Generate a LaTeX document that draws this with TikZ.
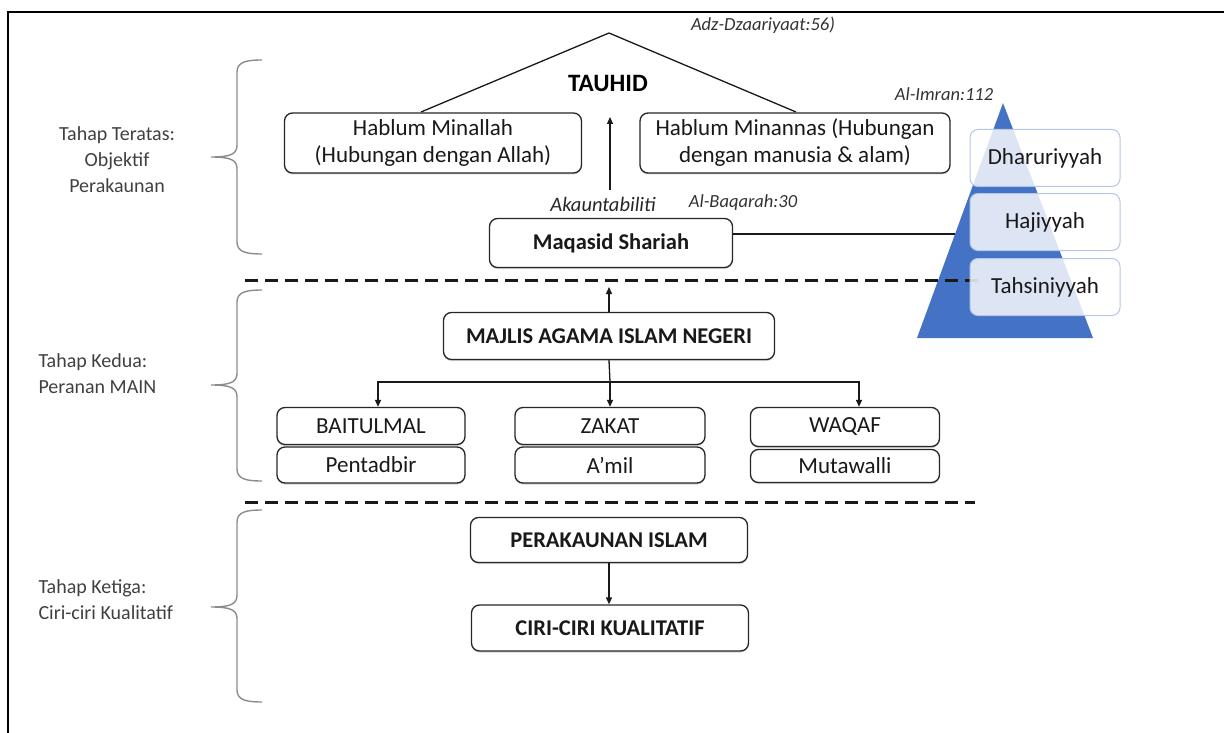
\documentclass[tikz,border=0pt]{standalone}
\usepackage{fontspec}
\setmainfont{Carlito}
\usetikzlibrary{arrows.meta,shadows}
\definecolor{pyrblue}{HTML}{4472C4}
\definecolor{pyredge}{HTML}{B4C7E7}
\definecolor{bracegray}{HTML}{8C8C8C}
\definecolor{labelgray}{HTML}{404040}

% curly brace opening to the right: top y, tip y, bottom y
\newcommand\stagebrace[3]{%
  \draw[stagebr] (262,#1) .. controls (246,#1) and (237,#1+2) .. (237,#1+12)
    -- (237,#2-12) .. controls (237,#2-3) and (231,#2) .. (211,#2)
    .. controls (231,#2) and (237,#2+3) .. (237,#2+12)
    -- (237,#3-12) .. controls (237,#3-2) and (246,#3) .. (262,#3);}

\begin{document}
\begin{tikzpicture}[x=1pt,y=-1pt,
  box/.style={draw=black!85, line width=1.3pt, rounded corners=8pt, fill=white,
    align=center, inner sep=0pt, text=black!90,
    drop shadow={shadow xshift=0pt, shadow yshift=-1.5pt, opacity=0.35},
    font=\fontsize{23}{27}\selectfont},
  boldbox/.style={box, font=\fontsize{22.5}{26}\selectfont\bfseries},
  pyrbox/.style={draw=pyredge, line width=1pt, rounded corners=8pt,
    fill=white, fill opacity=0.82, text opacity=1, inner sep=0pt,
    minimum width=150pt, font=\fontsize{23}{27}\selectfont, text=black!90},
  ref/.style={font=\fontsize{18.5}{22}\selectfont\itshape, text=black!80},
  stage/.style={font=\fontsize{20}{26}\selectfont, text=labelgray},
  stagebr/.style={draw=bracegray, line width=1.4pt},
  conn/.style={draw=black!90, line width=1.3pt},
  arr/.style={conn, -{Triangle[length=7pt,width=6pt]}},
  divider/.style={draw=black!90, line width=3pt, dash pattern=on 13pt off 7pt}
]
\useasboundingbox (0,0) rectangle (1224,733);

% frame edges
\draw[line width=2pt] (1224,12) -- (8,12) -- (8,733);

% roof of TAUHID
\coordinate (roofL) at (421,112);
\coordinate (roofT) at (609,33);
\coordinate (roofR) at (796,112);
\draw[conn] (roofL) -- (roofT) -- (roofR);
\node[font=\fontsize{25}{28}\selectfont\bfseries] (tauhid) at (608,83) {TAUHID};
\node[ref] (adz) at (763,25) {Adz-Dzaariyaat:56)};

% pyramid of maqasid levels
\coordinate (pyrT) at (1003,103);
\coordinate (pyrL) at (917,338);
\coordinate (pyrR) at (1093,338);
\fill[pyrblue] (pyrT) -- (pyrR) -- (pyrL) -- cycle;
\node[ref] (imran) at (944,94) {Al-Imran:112};

% top stage boxes
\node[box, minimum width=297pt, minimum height=60pt] (minallah) at (433,143)
  {Hablum Minallah\\(Hubungan dengan Allah)};
\node[box, minimum width=310pt, minimum height=60pt] (minannas) at (795,143)
  {Hablum Minannas (Hubungan\\dengan manusia \& alam)};
\node[boldbox, minimum width=243pt, minimum height=49pt] (maqasid) at (611,243)
  {Maqasid Shariah};
\node[font=\fontsize{20.5}{24}\selectfont\itshape, text=black!85] (akaun) at (603,204) {Akauntabiliti};
\node[ref] (baqarah) at (743,203) {Al-Baqarah:30};
\coordinate (akaunTop) at (610,190);
\coordinate (roofMid) at (610,117);
\draw[arr] (akaunTop) -- (roofMid);

% link to pyramid edge
\coordinate (pyrHit) at (955,234);
\draw[conn] (maqasid.east |- pyrHit) -- (pyrHit);

% dividers
\coordinate (div1L) at (245,280);
\coordinate (div1R) at (979,280);
\coordinate (div2L) at (245,502);
\coordinate (div2R) at (975,502);
\draw[divider] (div1L) -- (div1R);
\draw[divider] (div2L) -- (div2R);

% pyramid level boxes
\node[pyrbox, minimum height=57pt] (dhar) at (1045,158) {Dharuriyyah};
\node[pyrbox, minimum height=57pt] (haji) at (1045,222) {Hajiyyah};
\node[pyrbox, minimum height=57pt] (tahs) at (1045,287) {Tahsiniyyah};

% second stage
\node[boldbox, minimum width=331pt, minimum height=47pt] (majlis) at (609,336)
  {MAJLIS AGAMA ISLAM NEGERI};
\coordinate (majlisUp) at (609,287);
\draw[arr] (majlis.north) -- (majlisUp);

\node[box, minimum width=188pt, minimum height=37pt] (baitul) at (371,426) {BAITULMAL};
\node[box, minimum width=188pt, minimum height=36pt] (pentad) at (371,465) {Pentadbir};
\node[box, minimum width=190pt, minimum height=37pt] (zakat) at (610,426) {ZAKAT};
\node[box, minimum width=190pt, minimum height=36pt] (amil) at (610,465) {A’mil};
\node[box, minimum width=189pt, minimum height=39pt] (waqaf) at (845,427) {WAQAF};
\node[box, minimum width=189pt, minimum height=33pt] (mutaw) at (845,466) {Mutawalli};

\coordinate (bar) at (610,382);
\draw[conn] (majlis.south) -- (bar);
\draw[arr] (bar) -| ([xshift=7pt]baitul.north);
\draw[arr] (bar) -| ([xshift=14pt]waqaf.north);
\draw[arr] (bar) -- (zakat.north);

% third stage
\node[boldbox, minimum width=277pt, minimum height=45pt] (perak) at (609,540)
  {PERAKAUNAN ISLAM};
\node[boldbox, minimum width=277pt, minimum height=46pt] (ciri) at (610,628)
  {CIRI-CIRI KUALITATIF};
\draw[arr] (perak.south) -- (perak.south |- ciri.north);

% stage braces and labels
\stagebrace{60}{157}{254}
\stagebrace{290}{385}{481}
\stagebrace{510}{607}{702}
\node[stage, align=center] (lab1) at (117,160) {Tahap Teratas:\\Objektif\\Perakaunan};
\node[stage, align=left, anchor=west] (lab2) at (35,374) {Tahap Kedua:\\Peranan MAIN};
\node[stage, align=left, anchor=west] (lab3) at (35,600) {Tahap Ketiga:\\Ciri-ciri Kualitatif};
\end{tikzpicture}
\end{document}
